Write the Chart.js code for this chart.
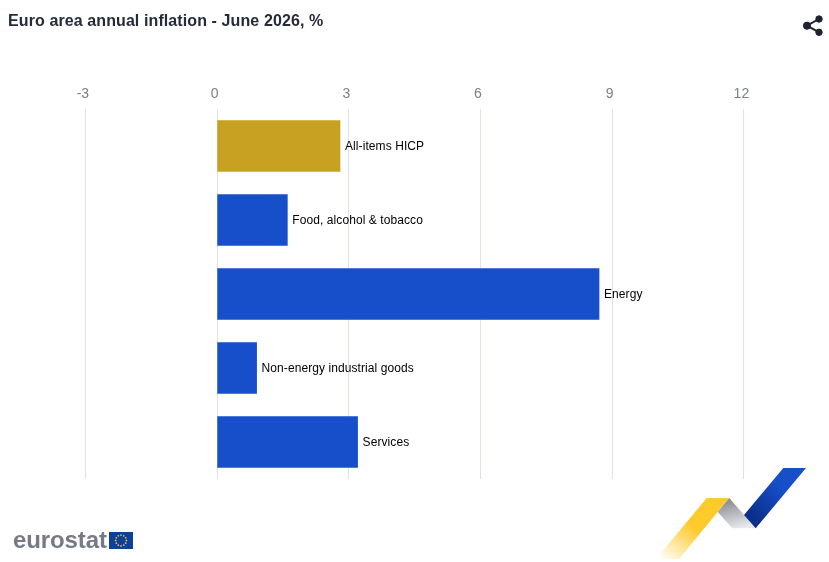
<!DOCTYPE html>
<html>
<head>
<meta charset="utf-8">
<title>Euro area annual inflation</title>
<script src="https://cdn.jsdelivr.net/npm/chart.js@4/dist/chart.umd.min.js"></script>
<style>
  html, body { margin: 0; padding: 0; background: #fff; }
  #wrap { position: relative; width: 829px; height: 562px; overflow: hidden; }
  #title { position: absolute; left: 8px; top: 12px; margin: 0; font: bold 16px "Liberation Sans", Arial, sans-serif; letter-spacing: 0.1px; color: #262b38; white-space: nowrap; }
  #brand { position: absolute; left: 13px; top: 526px; font: bold 24px "Liberation Sans", Arial, sans-serif; letter-spacing: -0.1px; color: #777a86; white-space: nowrap; }
  canvas, svg { position: absolute; left: 0; top: 0; }
</style>
</head>
<body>
<div id="wrap">
  <canvas id="barChart" width="829" height="562"></canvas>
  <h1 id="title">Euro area annual inflation - June 2026, %</h1>
  <div id="brand">eurostat</div>
  <svg id="decor" width="829" height="562" viewBox="0 0 829 562">
    <defs>
      <linearGradient id="yellowFade" gradientUnits="userSpaceOnUse" x1="664" y1="562" x2="692" y2="526">
        <stop offset="0" stop-color="#ffffff"/>
        <stop offset="1" stop-color="#ffca2c"/>
      </linearGradient>
      <linearGradient id="greyFold" x1="0.3" y1="0.1" x2="0.6" y2="1">
        <stop offset="0" stop-color="#8e9096"/>
        <stop offset="1" stop-color="#e9eaee"/>
      </linearGradient>
      <linearGradient id="blueFold" x1="0.75" y1="0.45" x2="0.3" y2="0.95">
        <stop offset="0" stop-color="#164fc9"/>
        <stop offset="1" stop-color="#0b2f8a"/>
      </linearGradient>
    </defs>
    <!-- share icon -->
    <g fill="#1d2230" stroke="#1d2230">
      <path d="M807 25.700 L819 19 M807 25.700 L819 32.300" stroke-width="2" fill="none"/>
      <circle cx="807" cy="25.700" r="3.6"/>
      <circle cx="819" cy="19" r="3.2"/>
      <circle cx="819" cy="32.300" r="3.2"/>
    </g>
    <!-- ribbon -->
    <path d="M706.7 498 L729.3 498 L717.7 512 L679 559 L656 559 Z" fill="url(#yellowFade)"/>
    <path d="M729.3 498 L744 515 L755.7 528.300 L732.300 528.300 L717.7 512 Z" fill="url(#greyFold)"/>
    <path d="M783.300 468 L806 468 L755.7 528.300 L744 515 Z" fill="url(#blueFold)"/>
    <!-- flag -->
    <rect x="109" y="532" width="24" height="17" fill="#0f3f9c"/>
    <g id="stars" fill="#e8b92e"></g>
  </svg>
</div>
<script>
const categories = ["All-items HICP", "Food, alcohol & tobacco", "Energy", "Non-energy industrial goods", "Services"];
const inflationValues = [2.8, 1.6, 8.7, 0.9, 3.2];
const barColors = ["#c9a122", "#164fc9", "#164fc9", "#164fc9", "#164fc9"];
const tickValues = [-3, 0, 3, 6, 9, 12];

// ring of stars on the flag
const stars = document.getElementById("stars");
for (let i = 0; i < 12; i++) {
  const a = i * Math.PI / 6;
  const c = document.createElementNS("http://www.w3.org/2000/svg", "circle");
  c.setAttribute("cx", 121 + 5.4 * Math.cos(a));
  c.setAttribute("cy", 540.5 + 5.4 * Math.sin(a));
  c.setAttribute("r", 0.9);
  stars.appendChild(c);
}

// writes the category name just past the end of each bar
const barNames = {
  id: "barNames",
  afterDatasetsDraw(chart) {
    const ctx = chart.ctx;
    ctx.save();
    ctx.font = '12px "Liberation Sans", Arial, sans-serif';
    ctx.letterSpacing = "0.08px";
    ctx.fillStyle = "#000";
    ctx.textAlign = "left";
    ctx.textBaseline = "middle";
    chart.getDatasetMeta(0).data.forEach((bar, i) => {
      ctx.fillText(categories[i], bar.x + 5, bar.y + 0.5);
    });
    ctx.restore();
  },
};

new Chart(document.getElementById("barChart").getContext("2d"), {
  type: "bar",
  data: {
    labels: categories,
    datasets: [
      {
        data: inflationValues,
        backgroundColor: barColors,
        barThickness: 51,
      },
    ],
  },
  options: {
    indexAxis: "y",
    responsive: false,
    animation: false,
    layout: { padding: { left: 85.4, right: 85.1, top: 0, bottom: 83 } },
    plugins: { legend: { display: false }, tooltip: { enabled: false } },
    scales: {
      x: {
        position: "top",
        min: -3,
        max: 12,
        afterFit(scale) { scale.height = 109; },
        afterBuildTicks(scale) { scale.ticks = tickValues.map((v) => ({ value: v })); },
        grid: { color: "#dfe2ee", drawTicks: false },
        border: { display: false },
        ticks: {
          color: "#7c7f8a",
          font: { family: '"Liberation Sans", Arial, sans-serif', size: 14 },
          padding: 6,
          labelOffset: -2.5,
          maxRotation: 0,
        },
      },
      y: { display: false },
    },
  },
  plugins: [barNames],
});
</script>
</body>
</html>
